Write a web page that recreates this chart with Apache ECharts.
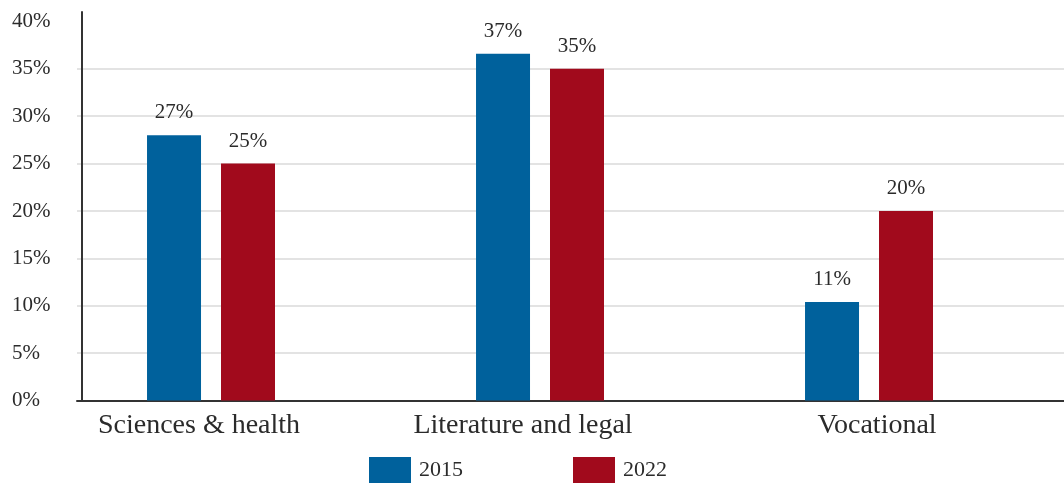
<!DOCTYPE html>
<html>
<head>
<meta charset="utf-8">
<script src="https://cdn.jsdelivr.net/npm/echarts@6/dist/echarts.min.js"></script>
<style>
html,body{margin:0;padding:0;background:#fff;}
#chart{width:1064px;height:484px;}
</style>
</head>
<body>
<div id="chart"></div>
<script>
var categories = ['Sciences & health', 'Literature and legal', 'Vocational'];
var seriesNames = ['2015', '2022'];
var values2015 = [28, 36.6, 10.4];
var values2022 = [25, 35, 20];
var labels2015 = ['27%', '37%', '11%'];
var labels2022 = ['25%', '35%', '20%'];
var yTicks = [0, 5, 10, 15, 20, 25, 30, 35, 40];

var FONT = '"Liberation Serif", "DejaVu Serif", serif';
var TEXT = '#2b2b2b';
var BLUE = '#00619c';
var RED = '#a10a1c';

var chart = echarts.init(document.getElementById('chart'));
var labelPad = [85, 95, 45];
var rich = {};
labelPad.forEach(function (p, i) {
  rich['c' + i] = { fontFamily: FONT, fontSize: 28, color: TEXT, padding: [0, p, 0, 0] };
});

function barLabel(arr) {
  return {
    show: true, position: 'top', distance: 12,
    fontFamily: FONT, fontSize: 21, color: TEXT,
    formatter: function (p) { return arr[p.dataIndex]; }
  };
}

chart.setOption({
  animation: false,
  backgroundColor: '#ffffff',
  grid: { left: 77, right: 0, top: 12, bottom: 83.5, containLabel: false },
  legend: {
    data: seriesNames,
    left: 369, top: 457, padding: 0,
    itemWidth: 42, itemHeight: 26, itemGap: 110,
    icon: 'rect',
    textStyle: { fontFamily: FONT, fontSize: 22, color: TEXT, padding: [0, 0, 0, 3] }
  },
  xAxis: {
    type: 'category',
    data: categories,
    axisLine: { show: true, lineStyle: { color: '#333', width: 2 } },
    axisTick: { show: false },
    axisLabel: {
      margin: 11,
      formatter: function (v, i) { return '{c' + i + '|' + v + '}'; },
      rich: rich
    },
    splitLine: { show: false }
  },
  yAxis: {
    type: 'value',
    min: 0, max: 41, interval: 5,
    offset: -5,
    axisLine: { show: true, lineStyle: { color: '#333', width: 2 } },
    axisTick: { show: false, customValues: yTicks },
    axisLabel: {
      align: 'left', margin: 70,
      customValues: yTicks,
      fontFamily: FONT, fontSize: 21, color: TEXT,
      formatter: function (v) { return v + '%'; }
    },
    splitLine: { show: true, showMaxLine: false, lineStyle: { color: '#e3e3e3', width: 2 } }
  },
  series: [
    { name: seriesNames[0], type: 'bar', data: values2015, barWidth: 54, itemStyle: { color: BLUE }, label: barLabel(labels2015) },
    { name: seriesNames[1], type: 'bar', data: values2022, barWidth: 54, itemStyle: { color: RED }, label: barLabel(labels2022) },
    { name: 'spacer', type: 'bar', data: [null, null, null], barWidth: 41, barGap: '37%', silent: true, itemStyle: { color: 'transparent' } }
  ]
});
</script>
</body>
</html>
